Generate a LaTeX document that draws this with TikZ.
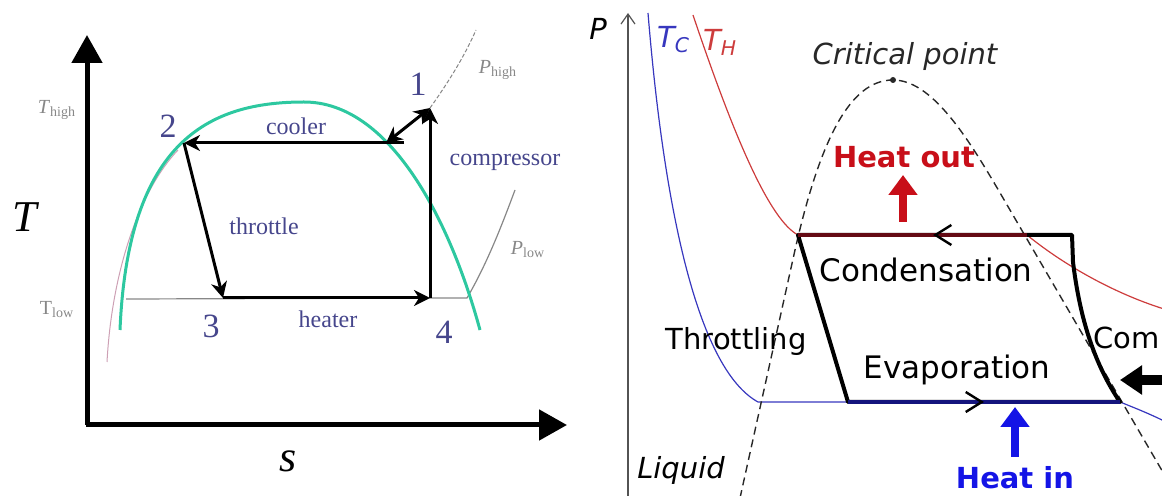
\documentclass[tikz,border=0pt]{standalone}
\usepackage{xcolor}
\usepackage{fontspec}
\setmainfont{Liberation Serif}
\newfontfamily\pvsans{DejaVu Sans}
\usepackage{tikz}
\usetikzlibrary{arrows.meta, positioning, calc, decorations.markings}
\definecolor{tsgreen}{RGB}{45,200,160}
\definecolor{tslabel}{RGB}{70,70,140}
\definecolor{tsgrey}{RGB}{135,135,135}
\definecolor{tspink}{RGB}{205,160,180}
\definecolor{pvblue}{RGB}{55,55,190}
\definecolor{pvred}{RGB}{205,60,60}
\definecolor{pvmaroon}{RGB}{100,10,20}
\definecolor{pvnavy}{RGB}{20,20,125}
\definecolor{heatred}{RGB}{200,15,25}
\definecolor{heatblue}{RGB}{20,20,230}
\definecolor{pvdark}{RGB}{40,40,40}
\tikzset{
  tsaxis/.style={line width=2.5pt, -{Triangle[length=14pt, width=15pt]}},
  tsarrow/.style={line width=1.5pt, -{Stealth[length=8pt, width=8pt, inset=2.5pt]}},
  tsnum/.style={font=\fontsize{17}{17}\selectfont, text=tslabel},
  tsproc/.style={font=\fontsize{12}{12}\selectfont, text=tslabel},
  tsiso/.style={font=\fontsize{10}{10}\selectfont, text=tsgrey},
  tsvar/.style={font=\fontsize{22}{22}\selectfont\itshape},
  pvtext/.style={font=\pvsans\fontsize{14.5}{14.5}\selectfont},
  pvbig/.style={font=\pvsans\fontsize{15.5}{15.5}\selectfont},
  pvital/.style={font=\pvsans\itshape\fontsize{14.5}{14.5}\selectfont},
  pvbold/.style={font=\pvsans\bfseries\fontsize{14.5}{14.5}\selectfont},
  heatarrow/.style={line width=4pt, -{Triangle[length=10pt, width=14pt]}},
  cycleline/.style={line width=2pt, line join=round},
  chevron/.style={postaction=decorate, decoration={markings,
    mark=at position #1 with {\arrow{Straight Barb[length=8pt, width=10pt, line width=1.2pt, color=black]}}}}
}

\begin{document}
\begin{tikzpicture}[x=0.5pt, y=-0.5pt]

  \useasboundingbox (0,0) rectangle (1162,496);

  % ── T-s diagram: state points ─────────────────────────────────────────────
  \coordinate (p1) at (430,108);
  \coordinate (p2) at (184,143);
  \coordinate (p3) at (223,298);
  \coordinate (p4) at (430,298);
  \coordinate (cs) at (404,143);
  \coordinate (cd) at (386,143);

  % ── Axes ──────────────────────────────────────────────────────────────────
  \coordinate (org) at (87,425);
  \draw[tsaxis] (org) -- (87,35);
  \draw[tsaxis] ($(org)+(-1,0)$) -- (567,425);
  \node[tsvar] (tlab) at (25,217) {T};
  \node[tsvar] (slab) at (288,461) {s};
  \node[tsiso] (thigh) at (57,110) {\textit{T}\textsubscript{high}};
  \node[tsiso] (tlow)  at (57,310) {T\textsubscript{low}};

  % ── Isobars and dome ──────────────────────────────────────────────────────
  \draw[tspink, line width=0.5pt] (107,362) .. controls (112,270) and (140,190) .. (178,150);
  \draw[tsgrey, line width=0.6pt] (126,299) -- (467,298)
    .. controls (488,262) and (503,222) .. (515,190);
  \draw[tsgrey, line width=0.5pt, dash pattern=on 2pt off 1pt] (p1)
    .. controls (450,80) and (465,55) .. (476,30);
  \node[tsiso] (phigh) at (498,70) {\textit{P}\textsubscript{high}};
  \node[tsiso] (plow)  at (528,250) {\textit{P}\textsubscript{low}};
  \draw[tsgreen, line width=1.5pt] (120,330) .. controls (128,140) and (210,102) .. (304,102)
    .. controls (390,102) and (450,220) .. (480,330);

  % ── Cycle ─────────────────────────────────────────────────────────────────
  \draw[tsarrow] (cs) -- (p2);
  \draw[tsarrow] (p2) -- (p3);
  \draw[tsarrow] (p3) -- (p4);
  \draw[tsarrow] (p4) -- (p1);
  \draw[line width=1.5pt, {Stealth[length=8pt, width=8pt, inset=2.5pt]}-{Stealth[length=8pt, width=8pt, inset=2.5pt]}]
    (cd) -- (p1);

  % ── Labels ────────────────────────────────────────────────────────────────
  \node[tsnum] (n1) at (418,84)  {1};
  \node[tsnum] (n2) at (168,126) {2};
  \node[tsnum] (n3) at (211,326) {3};
  \node[tsnum] (n4) at (444,332) {4};
  \node[tsproc] (lcool)  at (296,126) {cooler};
  \node[tsproc] (lthrot) at (264,226) {throttle};
  \node[tsproc] (lheat)  at (328,319) {heater};
  \node[tsproc] (lcomp)  at (505,162) {compressor};

  % ── P-v diagram: axis ─────────────────────────────────────────────────────
  \draw[pvdark!80, line width=0.6pt, -{Straight Barb[length=5pt, width=7pt]}] (628,496) -- (628,13);
  \node[pvital] (plab) at (598,29) {P};
  \node[pvital, text=pvblue, anchor=west] (tc) at (650,40) {T\textsubscript{C}};
  \node[pvital, text=pvred, anchor=west] (th) at (696,42) {T\textsubscript{H}};

  % ── Cycle corners ─────────────────────────────────────────────────────────
  \coordinate (tl) at (798,235);
  \coordinate (tr) at (1072,235);
  \coordinate (br) at (1120,402);
  \coordinate (bl) at (848,402);
  \coordinate (hx) at (1027,235);
  \coordinate (cp) at (893,80);

  % ── Isotherms ─────────────────────────────────────────────────────────────
  \draw[pvblue, line width=0.6pt] (648,13) .. controls (665,220) and (700,370) .. (758,402)
    -- (br) .. controls (1135,408) and (1150,414) .. (1164,421);
  \draw[pvred, line width=0.6pt] (693,15) .. controls (735,140) and (770,220) .. (tl)
    -- (hx) .. controls (1060,262) and (1110,292) .. (1164,309);

  % ── Saturation dome ───────────────────────────────────────────────────────
  \draw[pvdark, line width=0.7pt, dash pattern=on 4pt off 2.5pt]
    (740,498) -- (795,250) .. controls (820,140) and (850,80) .. (cp)
    .. controls (936,80) and (975,150) .. (1010,210) -- (1164,474);
  \fill[pvdark] (cp) circle[radius=3];
  \node[pvital, text=pvdark] (crit) at (905,57) {Critical point};

  % ── Refrigeration cycle ───────────────────────────────────────────────────
  \draw[cycleline] (tl) -- (tr) -- (1073,262) .. controls (1080,320) and (1095,365) .. (br)
    -- (bl) -- cycle;
  \draw[cycleline, pvmaroon, chevron=0.41] (hx) -- (tl);
  \draw[cycleline, pvnavy, chevron=0.5] (bl) -- (br);

  % ── Heat flows ────────────────────────────────────────────────────────────
  \draw[heatarrow, heatred] (903,222) -- (903,175);
  \node[pvbold, text=heatred] (hout) at (904,157) {Heat out};
  \draw[heatarrow, heatblue] (1015,457) -- (1015,407);
  \node[pvbold, text=heatblue] (hin) at (1015,478) {Heat in};
  \draw[line width=5pt, -{Triangle[length=11pt, width=14pt]}] (1170,380) -- (1120,380);

  % ── Process labels ────────────────────────────────────────────────────────
  \node[pvbig] (cond) at (926,270) {Condensation};
  \node[pvbig] (evap) at (957,370) {Evaporation};
  \node[pvtext] (thro) at (736,342) {Throttling};
  \node[pvtext, anchor=east, inner sep=1pt] (comp) at (1162,338) {Com};
  \node[pvital] (liq) at (681,470) {Liquid};

\end{tikzpicture}
\end{document}
